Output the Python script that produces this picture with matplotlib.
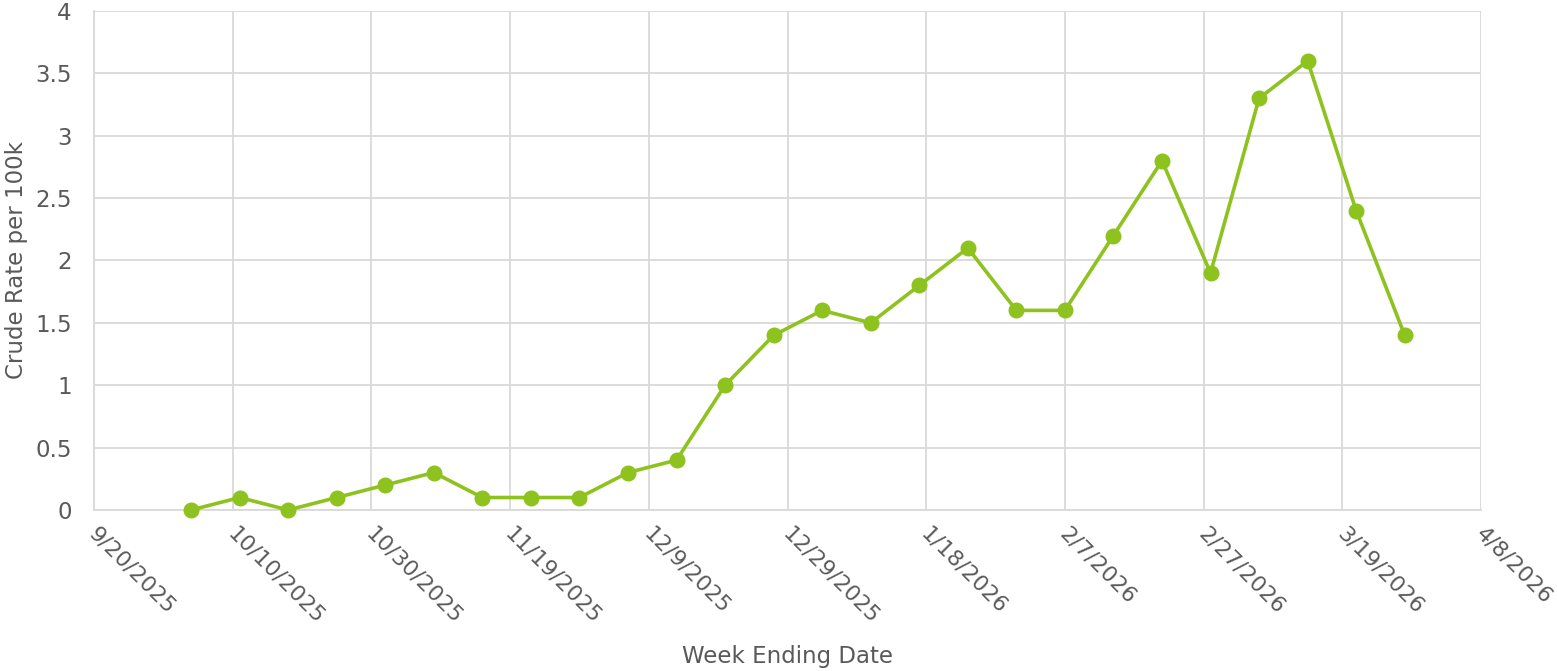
import matplotlib
matplotlib.use("Agg")
import matplotlib.pyplot as plt
import matplotlib.transforms as mtrans
import pandas as pd
import datetime as dt

week_ending = pd.date_range("2025-10-04", "2026-03-28", freq="7D")
rates = [0, 0.1, 0, 0.1, 0.2, 0.3, 0.1, 0.1, 0.1, 0.3, 0.4, 1.0, 1.4, 1.6, 1.5,
         1.8, 2.1, 1.6, 1.6, 2.2, 2.8, 1.9, 3.3, 3.6, 2.4, 1.4]
x_start = dt.datetime(2025, 9, 20)
x_end = dt.datetime(2026, 4, 8)
tick_dates = pd.date_range(x_start, x_end, freq="20D")
y_ticks = [0, 0.5, 1, 1.5, 2, 2.5, 3, 3.5, 4]

plt.rcParams['font.family'] = ['DejaVu Sans']
text_color = '#595959'
grid_color = '#D9D9D9'
line_color = '#8DC21F'

fig = plt.figure(figsize=(15.57, 6.71), dpi=100)
ax = fig.add_axes([94/1557, 1-510/671, (1481-94)/1557, (510-11)/671])

ax.plot(week_ending, rates, color=line_color, linewidth=2.6, marker='o',
        markersize=10.5, zorder=3, clip_on=False)

ax.set_xlim(x_start, x_end)
ax.set_ylim(0, 4)
ax.set_xticks(tick_dates)
ax.set_xticklabels([f"{d.month}/{d.day}/{d.year}" for d in tick_dates],
                   rotation=-45, ha='left', va='top', rotation_mode='anchor')
ax.set_yticks(y_ticks)
ax.set_yticklabels([f"{v:g}" for v in y_ticks])

ax.grid(True, color=grid_color, linewidth=1.3)
ax.set_axisbelow(True)
for side in ['top', 'right']:
    ax.spines[side].set_visible(False)
for side in ['left', 'bottom']:
    ax.spines[side].set_color(grid_color)
    ax.spines[side].set_linewidth(1.3)

fs = 16.5
ax.tick_params(axis='both', length=0, labelsize=fs, colors=text_color)
ax.tick_params(axis='x', labelsize=15.8, pad=5)
ax.tick_params(axis='y', pad=16)

offset = mtrans.ScaledTranslation(5/100, -7/100, fig.dpi_scale_trans)
for lbl in ax.get_xticklabels():
    lbl.set_transform(lbl.get_transform() + offset)

ax.set_ylabel("Crude Rate per 100k", fontsize=fs, color=text_color)
ax.yaxis.set_label_coords(-78/1387, 0.5)
ax.set_xlabel("Week Ending Date", fontsize=fs, color=text_color)
ax.xaxis.set_label_coords(0.5, -(657-510)/499)
ax.xaxis.label.set_va('center')
ax.yaxis.label.set_va('center')

fig.savefig("out.png", dpi=100, facecolor='white')
